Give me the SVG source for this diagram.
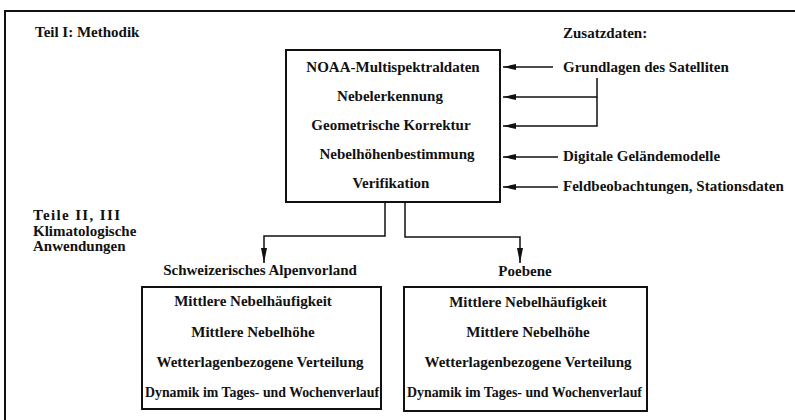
<svg xmlns="http://www.w3.org/2000/svg" width="795" height="420" viewBox="0 0 795 420">
<defs>
<style>
.t{font-family:"Liberation Serif","Times New Roman",serif;font-weight:bold;font-size:15px;fill:#111;}
.c{text-anchor:middle;}
.box{fill:none;stroke:#111;stroke-width:2;}
.con{fill:none;stroke:#111;stroke-width:1.5;}
</style>
<marker id="ah" markerUnits="userSpaceOnUse" markerWidth="14" markerHeight="7" refX="13" refY="3.5" orient="auto">
<path d="M0,0.5 L13,3.5 L0,6.5 z" fill="#111"/>
</marker>
<marker id="av" markerUnits="userSpaceOnUse" markerWidth="16" markerHeight="7" refX="15" refY="3.5" orient="auto">
<path d="M0,0.5 L15,3.5 L0,6.5 z" fill="#111"/>
</marker>
</defs>
<rect width="795" height="420" fill="#fff"/>
<g id="frame">
<path d="M5 420 V11 H795" fill="none" stroke="#111" stroke-width="2"/>
</g>
<g id="label-teil1">
<text class="t" x="35" y="37">Teil I: Methodik</text>
</g>
<g id="label-zusatz">
<text class="t" x="563" y="38">Zusatzdaten:</text>
</g>
<g id="methodik">
<rect class="box" x="286" y="50" width="214" height="152"/>
<text class="t c" x="393" y="72">NOAA-Multispektraldaten</text>
<text class="t c" x="390" y="101">Nebelerkennung</text>
<text class="t c" x="391" y="130">Geometrische Korrektur</text>
<text class="t c" x="397" y="159">Nebelhöhenbestimmung</text>
<text class="t c" x="391" y="188">Verifikation</text>
</g>
<g id="grundlagen">
<text class="t" x="563" y="72">Grundlagen des Satelliten</text>
</g>
<g id="gelaende">
<text class="t" x="563" y="161">Digitale Geländemodelle</text>
</g>
<g id="feld">
<text class="t" x="563" y="191">Feldbeobachtungen, Stationsdaten</text>
</g>
<g id="label-teile23">
<text class="t" x="33" y="220" textLength="87" lengthAdjust="spacing">Teile II, III</text>
<text class="t" x="33" y="236">Klimatologische</text>
<text class="t" x="33" y="251">Anwendungen</text>
</g>
<g id="alpenvorland">
<text class="t c" x="260" y="275">Schweizerisches Alpenvorland</text>
<rect class="box" x="142" y="287" width="239" height="122"/>
<text class="t c" x="253" y="306">Mittlere Nebelhäufigkeit</text>
<text class="t c" x="253" y="337">Mittlere Nebelhöhe</text>
<text class="t c" x="260" y="367">Wetterlagenbezogene Verteilung</text>
<text class="t" x="145" y="397" textLength="234" lengthAdjust="spacingAndGlyphs">Dynamik im Tages- und Wochenverlauf</text>
</g>
<g id="poebene">
<text class="t c" x="525" y="276">Poebene</text>
<rect class="box" x="404" y="287" width="243" height="124"/>
<text class="t c" x="528" y="307">Mittlere Nebelhäufigkeit</text>
<text class="t c" x="528" y="337">Mittlere Nebelhöhe</text>
<text class="t c" x="528" y="367">Wetterlagenbezogene Verteilung</text>
<text class="t" x="407" y="397" textLength="235" lengthAdjust="spacingAndGlyphs">Dynamik im Tages- und Wochenverlauf</text>
</g>
<g id="connectors">
<path class="con" d="M553 67 H503" marker-end="url(#ah)"/>
<path class="con" d="M597 78 V97 H503" marker-end="url(#ah)"/>
<path class="con" d="M597 97 V126 H503" marker-end="url(#ah)"/>
<path class="con" d="M558 157 H503" marker-end="url(#ah)"/>
<path class="con" d="M558 187 H503" marker-end="url(#ah)"/>
<path class="con" d="M385 202 V236 H264 V263" marker-end="url(#av)"/>
<path class="con" d="M405 202 V237 H520 V263" marker-end="url(#av)"/>
</g>
</svg>
